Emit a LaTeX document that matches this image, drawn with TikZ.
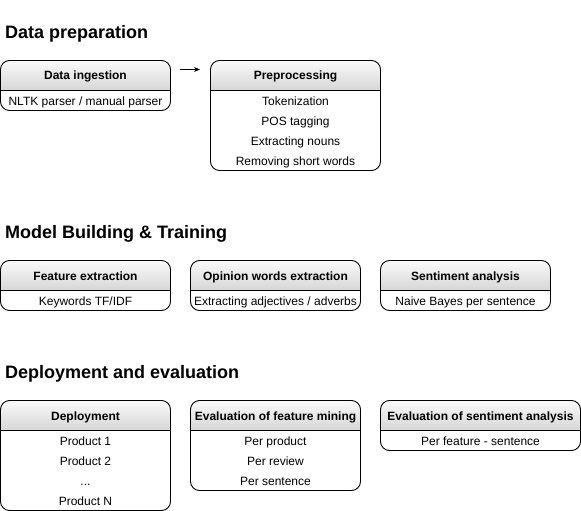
\documentclass[tikz,border=0pt]{standalone}
\usepackage{fontspec}
\setmainfont{Liberation Sans}
\usetikzlibrary{arrows.meta}
\definecolor{hdtop}{HTML}{FAFAFA}
\definecolor{hdbot}{HTML}{D6D6D6}
\tikzset{
  hdrtext/.style={font=\fontsize{12}{14}\selectfont\bfseries, inner sep=0pt, anchor=base},
  rowtext/.style={font=\fontsize{12}{14}\selectfont, inner sep=0pt, anchor=base},
  title/.style={font=\fontsize{18}{21}\selectfont\bfseries, anchor=base west, inner sep=0pt},
  boxline/.style={draw=black, line width=0.9pt},
}
\newcommand\ubox[6]{% name, x, y, w, rows, title
  \pgfmathsetmacro\bh{30+20*#5}
  \begin{scope}
    \clip[rounded corners=9pt] (#2,#3) rectangle ++(#4,\bh);
    \shade[top color=hdtop,bottom color=hdbot] (#2,#3) rectangle ++(#4,30);
  \end{scope}
  \draw[boxline,rounded corners=9pt] (#2,#3) rectangle ++(#4,\bh);
  \draw[boxline] (#2,#3+30) -- ++(#4,0);
  \node[hdrtext] (#1) at (#2+#4/2,#3+19.5) {#6};
}
\newcommand\urow[5]{% name, x, y, w, index; text follows
  \node[rowtext] (#1) at (#2+#4/2,#3+30+20*#5-5.5) }
\begin{document}
\begin{tikzpicture}[x=1pt,y=-1pt]
\useasboundingbox (0,0) rectangle (581,511);
% titles
\node[title] (t1) at (5,38.5) {Data preparation};
\node[title] (t2) at (5,238.5) {Model Building \& Training};
\node[title] (t3) at (5,378.5) {Deployment and evaluation};
% row 1
\ubox{di}{0.5}{60.5}{170}{1}{Data ingestion}
\urow{di1}{0.5}{60.5}{170}{1}{NLTK parser / manual parser};
\ubox{pp}{210.5}{60.5}{170}{4}{Preprocessing}
\urow{pp1}{210.5}{60.5}{170}{1}{Tokenization};
\urow{pp2}{210.5}{60.5}{170}{2}{POS tagging};
\urow{pp3}{210.5}{60.5}{170}{3}{Extracting nouns};
\urow{pp4}{210.5}{60.5}{170}{4}{Removing short words};
\coordinate (a1) at (180,69.5);
\coordinate (a2) at (200,69.5);
\draw[line width=0.9pt,-{Stealth[length=6pt,width=5pt]}] (a1) -- (a2);
% row 2
\ubox{fe}{0.5}{260.5}{170}{1}{Feature extraction}
\urow{fe1}{0.5}{260.5}{170}{1}{Keywords TF/IDF};
\ubox{ow}{190.5}{260.5}{170}{1}{Opinion words extraction}
\urow{ow1}{190.5}{260.5}{170}{1}{Extracting adjectives / adverbs};
\ubox{sa}{380.5}{260.5}{170}{1}{Sentiment analysis}
\urow{sa1}{380.5}{260.5}{170}{1}{Naive Bayes per sentence};
% row 3
\ubox{dp}{0.5}{400.5}{170}{4}{Deployment}
\urow{dp1}{0.5}{400.5}{170}{1}{Product 1};
\urow{dp2}{0.5}{400.5}{170}{2}{Product 2};
\urow{dp3}{0.5}{400.5}{170}{3}{...};
\urow{dp4}{0.5}{400.5}{170}{4}{Product N};
\ubox{ef}{190.5}{400.5}{170}{3}{Evaluation of feature mining}
\urow{ef1}{190.5}{400.5}{170}{1}{Per product};
\urow{ef2}{190.5}{400.5}{170}{2}{Per review};
\urow{ef3}{190.5}{400.5}{170}{3}{Per sentence};
\ubox{es}{380.5}{400.5}{200}{1}{Evaluation of sentiment analysis}
\urow{es1}{380.5}{400.5}{200}{1}{Per feature - sentence};
\end{tikzpicture}
\end{document}
